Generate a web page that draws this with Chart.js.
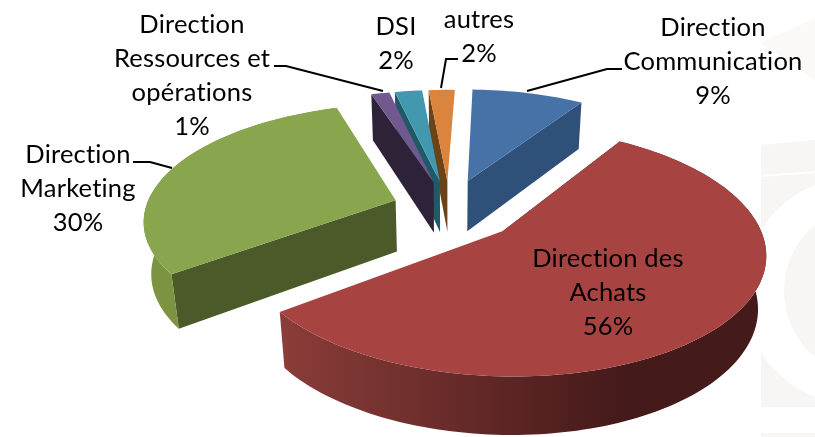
<!DOCTYPE html>
<html>
<head>
<meta charset="utf-8">
<script src="https://cdn.jsdelivr.net/npm/chart.js@4/dist/chart.umd.min.js"></script>
<style>
    html, body { margin: 0; background: #fff; }
    canvas { display: block; filter: blur(0.4px); }
</style>
</head>
<body>
<canvas id="chart" width="815" height="437"></canvas>
<script>
const categories = ["Direction Communication", "Direction des Achats", "Direction Marketing",
    "Direction Ressources et opérations", "DSI", "autres"];
const shares = [8.6, 55.6, 30.3, 1.4, 2.1, 2];
const explode = [144, 159, 126, 135, 135, 135];

const topColors = ["#4672A8", "#A74442", "#89A54E", "#71588F", "#4298AF", "#DB843D"];
const cutColors = ["#2F5078", "#451A1A", "#4B5A28", "#2D2238", "#1F5A68", "#6B4318"];
// only the two front slices show their rim
const rimFrom = [null, "#8B3D39", "#7C9441", null, null, null];
const rimTo = [null, "#451A1A", "#7C9441", null, null, null];
// which cut face shows: blue its end, the others their start
const cutAtEnd = [true, false, false, false, false, false];

// label text split the way the reference wraps it
const labelLines = [
    ["Direction", "Communication"],
    ["Direction des", "Achats"],
    ["Direction", "Marketing"],
    ["Direction", "Ressources et", "opérations"],
    ["DSI"],
    ["autres"]
];
const labelAnchors = [[713, 28], [608, 259], [78, 155], [192, 25], [396, 27], [479, 20]];
const leaders = [
    [[622, 69], [607, 69], [527, 91]],
    [],
    [[133, 162], [150, 162], [172, 168]],
    [[274, 66], [286, 66], [383, 91]],
    [],
    [[458, 59], [446, 59], [441, 88]]
];

// projection of the flat pie onto a tilted plane
const view = {cx: 449, cy: 208, rx: 250, ry: 114, depth: 53, k: 0.16, m: 0.025};

function project(x, y, z) {
    const w = 1 + view.k * y + view.m * z;
    return [view.cx + x * view.rx / w, view.cy + (-y * view.ry + z * view.depth) / w];
}

function tracePoly(ctx, pts) {
    ctx.beginPath();
    pts.forEach((p, i) => i ? ctx.lineTo(p[0], p[1]) : ctx.moveTo(p[0], p[1]));
    ctx.closePath();
}

function drawWatermark(ctx) {
    ctx.save();
    ctx.fillStyle = "#F7F6F4";
    tracePoly(ctx, [[761, 145], [815, 140], [815, 407], [761, 407]]);
    ctx.fill();
    ctx.fillRect(761, 433, 54, 4);
    ctx.fillStyle = "#FAF9F8";
    tracePoly(ctx, [[760, 43], [815, 18], [815, 80]]);
    ctx.fill();
    ctx.fillStyle = "#FFFFFF";
    ctx.beginPath();
    ctx.arc(857, 291, 114, 0, Math.PI * 2);
    ctx.fill();
    tracePoly(ctx, [[761, 175], [815, 171], [815, 173], [761, 177]]);
    ctx.fill();
    ctx.fillStyle = "#F7F6F4";
    ctx.beginPath();
    ctx.arc(870, 291, 86, 0, Math.PI * 2);
    ctx.fill();
    ctx.restore();
}

function drawSlice(ctx, arc, i) {
    const R = arc.outerRadius;
    const mid = (arc.startAngle + arc.endAngle) / 2;
    const off = arc.options.offset / 4 / R;
    const ox = Math.cos(mid) * off;
    const oy = -Math.sin(mid) * off;
    const ground = (a, z) => project(ox + Math.cos(a), oy - Math.sin(a), z);
    const steps = Math.ceil((arc.endAngle - arc.startAngle) * 40);
    const angles = [];
    for (let s = 0; s <= steps; s++) {
        angles.push(arc.startAngle + (arc.endAngle - arc.startAngle) * s / steps);
    }
    const top = angles.map(a => ground(a, 0));
    const bottom = angles.map(a => ground(a, 1));
    const apexTop = project(ox, oy, 0);
    const apexBottom = project(ox, oy, 1);

    // cut face
    const edge = cutAtEnd[i] ? steps : 0;
    ctx.fillStyle = cutColors[i];
    tracePoly(ctx, [apexTop, top[edge], bottom[edge], apexBottom]);
    ctx.fill();

    // outer rim
    if (rimFrom[i]) {
        const xs = top.map(p => p[0]);
        const minX = Math.min(...xs);
        const maxX = Math.max(...xs);
        const rim = ctx.createLinearGradient(minX, 0, minX + (maxX - minX) * 0.7, 0);
        rim.addColorStop(0, rimFrom[i]);
        rim.addColorStop(1, rimTo[i]);
        ctx.fillStyle = rim;
        tracePoly(ctx, top.concat(bottom.slice().reverse()));
        ctx.fill();
    }

    // top face
    ctx.fillStyle = topColors[i];
    tracePoly(ctx, [apexTop].concat(top));
    ctx.fill();
}

function drawLabels(ctx, total) {
    ctx.save();
    ctx.fillStyle = "#000";
    ctx.strokeStyle = "#000";
    ctx.lineWidth = 2;
    ctx.font = "25.5px Lato";
    ctx.letterSpacing = "0.2px";
    ctx.textAlign = "center";
    ctx.textBaseline = "middle";
    labelLines.forEach((lines, i) => {
        const text = lines.concat(Math.round(shares[i] / total * 100) + "%");
        text.forEach((t, n) => ctx.fillText(t, labelAnchors[i][0], labelAnchors[i][1] + n * 34));
        if (leaders[i].length) {
            ctx.beginPath();
            leaders[i].forEach((p, n) => n ? ctx.lineTo(p[0], p[1]) : ctx.moveTo(p[0], p[1]));
            ctx.stroke();
        }
    });
    ctx.restore();
}

const pie3d = {
    id: "pie3d",
    beforeDraw(chart) {
        drawWatermark(chart.ctx);
    },
    beforeDatasetsDraw(chart) {
        const arcs = chart.getDatasetMeta(0).data;
        const backToFront = arcs.map((arc, i) => i).sort((a, b) => {
            const midA = (arcs[a].startAngle + arcs[a].endAngle) / 2;
            const midB = (arcs[b].startAngle + arcs[b].endAngle) / 2;
            return Math.sin(midA) * explode[a] - Math.sin(midB) * explode[b];
        });
        backToFront.forEach(i => drawSlice(chart.ctx, arcs[i], i));
        drawLabels(chart.ctx, shares.reduce((a, b) => a + b, 0));
        return false;
    }
};

new Chart(document.getElementById("chart"), {
    type: "pie",
    data: {
        labels: categories,
        datasets: [{
            data: shares,
            backgroundColor: topColors,
            offset: explode,
            borderWidth: 0
        }]
    },
    options: {
        responsive: false,
        animation: false,
        events: [],
        rotation: 2,
        layout: {padding: 0},
        plugins: {legend: {display: false}, tooltip: {enabled: false}}
    },
    plugins: [pie3d]
});
</script>
</body>
</html>
